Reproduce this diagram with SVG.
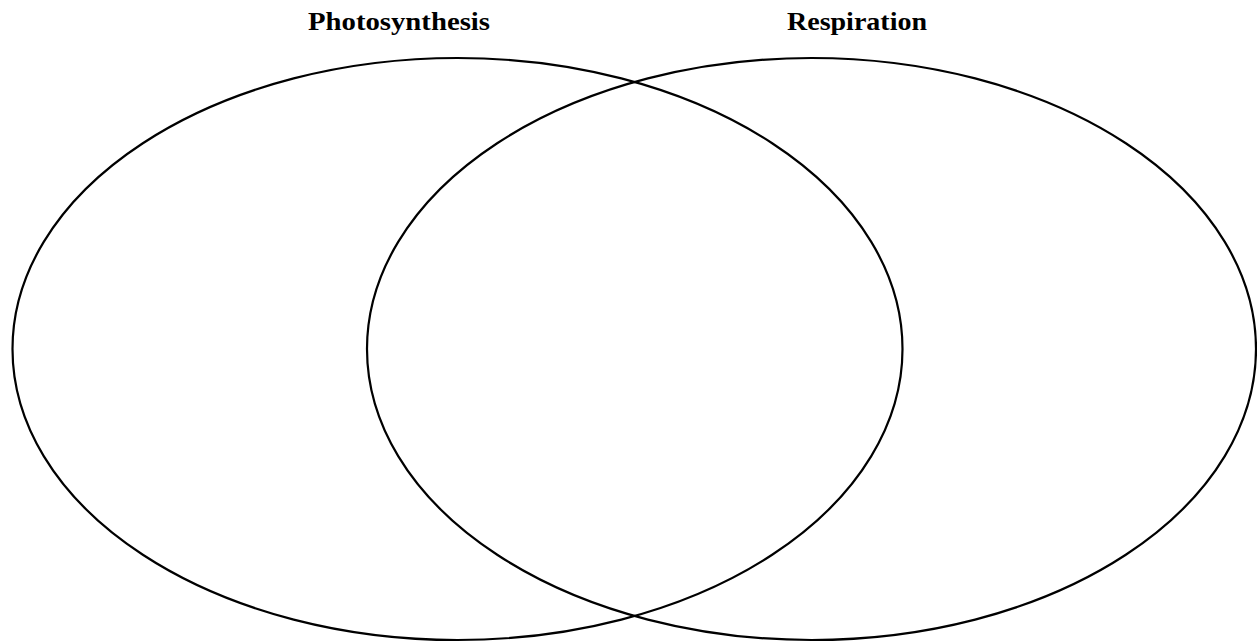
<svg xmlns="http://www.w3.org/2000/svg" width="1257" height="643" viewBox="0 0 1257 643">
<style>
.c{fill:none;stroke:#000;stroke-width:2.2}
.t{font-family:"Liberation Serif","DejaVu Serif",serif;font-weight:bold;font-size:25px;text-anchor:middle;fill:#000}
</style>
<rect width="1257" height="643" fill="#fff"/>
<g id="photosynthesis">
<ellipse class="c" cx="457.5" cy="349" rx="445" ry="291"/>
<text class="t" x="399" y="30" textLength="182" lengthAdjust="spacingAndGlyphs">Photosynthesis</text>
</g>
<g id="respiration">
<ellipse class="c" cx="811.5" cy="349" rx="444.5" ry="291"/>
<text class="t" x="857" y="30" textLength="140" lengthAdjust="spacingAndGlyphs">Respiration</text>
</g>
<g id="connectors"></g>
</svg>
